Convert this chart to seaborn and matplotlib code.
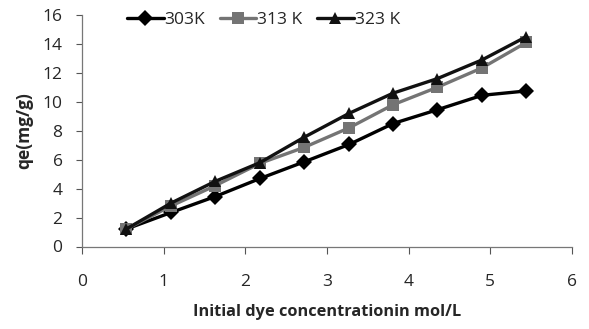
import matplotlib
matplotlib.use("Agg")
import matplotlib.pyplot as plt
import seaborn as sns
import pandas as pd

conc = [0.54, 1.09, 1.63, 2.18, 2.72, 3.27, 3.81, 4.35, 4.90, 5.44]
qe_303 = [1.2, 2.35, 3.45, 4.7, 5.85, 7.05, 8.5, 9.45, 10.45, 10.75]
qe_313 = [1.2, 2.8, 4.2, 5.75, 6.85, 8.2, 9.8, 11.0, 12.35, 14.1]
qe_323 = [1.2, 3.0, 4.5, 5.8, 7.55, 9.2, 10.6, 11.6, 12.9, 14.5]
series_names = ["303K", "313 K", "323 K"]
x_ticks = [0, 1, 2, 3, 4, 5, 6]
y_ticks = [0, 2, 4, 6, 8, 10, 12, 14, 16]

df = pd.DataFrame({
    "conc": conc * 3,
    "qe": qe_303 + qe_313 + qe_323,
    "series": [series_names[0]] * 10 + [series_names[1]] * 10 + [series_names[2]] * 10,
})

sns.set_theme(style="white")
plt.rcParams["font.family"] = ["Open Sans", "DejaVu Sans"]

fig = plt.figure(figsize=(5.89, 3.29), dpi=100)
ax = fig.add_axes([82 / 589, 1 - 246.5 / 329, (572 - 82) / 589, (246.5 - 15) / 329])

palette = {"303K": "#000000", "313 K": "#747474", "323 K": "#111111"}
markers = {"303K": "D", "313 K": "s", "323 K": "^"}
sns.lineplot(data=df, x="conc", y="qe", hue="series", style="series",
             palette=palette, markers=markers, dashes=False, linewidth=2.4,
             markersize=8.5, markeredgewidth=0, ax=ax, legend=True)

ax.set_xlim(0, 6)
ax.set_ylim(0, 16)
ax.set_xticks(x_ticks)
ax.set_yticks(y_ticks)
ax.tick_params(axis="both", labelsize=12.5, direction="out", width=0.8,
               color="#555555", left=True, bottom=True)
ax.tick_params(axis="y", pad=10, length=4)
ax.tick_params(axis="x", pad=15, length=5)
for s in ["top", "right"]:
    ax.spines[s].set_visible(False)
for s in ["left", "bottom"]:
    ax.spines[s].set_color("#777777")
    ax.spines[s].set_linewidth(0.9)

ax.set_xlabel("Initial dye concentrationin mol/L", fontsize=11.8, fontweight="bold", labelpad=10)
ax.set_ylabel("qe(mg/g)", fontsize=12.5, fontweight="bold", labelpad=7)

handles, labels = ax.get_legend_handles_labels()
ax.legend(handles, labels, loc="center left", bbox_to_anchor=(0.092, 0.978), ncol=3,
          frameon=False, fontsize=12.5, handlelength=2.1, handletextpad=0.05,
          columnspacing=0.85, borderaxespad=0, borderpad=0)

fig.savefig("out.png", dpi=100)
